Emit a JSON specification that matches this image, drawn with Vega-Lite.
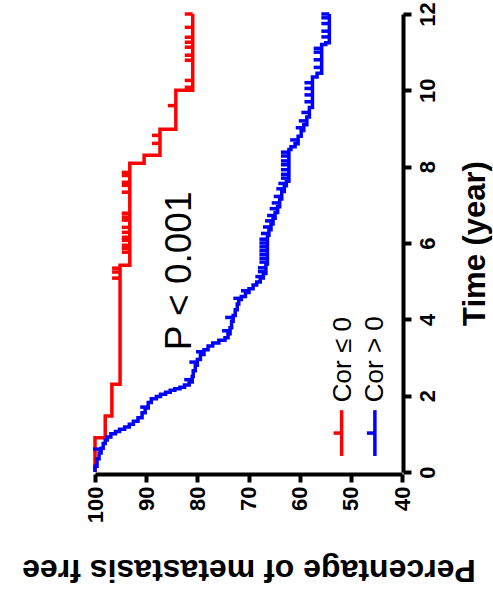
{
  "$schema": "https://vega.github.io/schema/vega-lite/v6.json",
  "autosize": {"type": "none"},
  "width": 307,
  "height": 458,
  "padding": {"left": 95, "top": 14, "right": 91, "bottom": 126},
  "background": "white",
  "config": {
    "view": {"stroke": null},
    "axis": {"grid": false, "labelFont": "Liberation Sans", "titleFont": "Liberation Sans"},
    "text": {"font": "Liberation Sans"}
  },
  "datasets": {
    "km": [
      {"group": "Cor ≤ 0", "time": 0, "pct": 100},
      {"group": "Cor ≤ 0", "time": 0.9, "pct": 98.0},
      {"group": "Cor ≤ 0", "time": 1.47, "pct": 96.7},
      {"group": "Cor ≤ 0", "time": 2.3, "pct": 95.1},
      {"group": "Cor ≤ 0", "time": 5.42, "pct": 93.2},
      {"group": "Cor ≤ 0", "time": 8.09, "pct": 90.4},
      {"group": "Cor ≤ 0", "time": 8.3, "pct": 87.3},
      {"group": "Cor ≤ 0", "time": 8.98, "pct": 84.2},
      {"group": "Cor ≤ 0", "time": 10.0, "pct": 80.9},
      {"group": "Cor ≤ 0", "time": 12.0, "pct": 80.9},
      {"group": "Cor > 0", "time": 0, "pct": 100},
      {"group": "Cor > 0", "time": 0.15, "pct": 99.6},
      {"group": "Cor > 0", "time": 0.35, "pct": 99.2},
      {"group": "Cor > 0", "time": 0.5, "pct": 98.8},
      {"group": "Cor > 0", "time": 0.62, "pct": 98.4},
      {"group": "Cor > 0", "time": 0.75, "pct": 98.0},
      {"group": "Cor > 0", "time": 0.84, "pct": 97.6},
      {"group": "Cor > 0", "time": 0.92, "pct": 96.9},
      {"group": "Cor > 0", "time": 1.0, "pct": 96.0},
      {"group": "Cor > 0", "time": 1.06, "pct": 95.2},
      {"group": "Cor > 0", "time": 1.12, "pct": 94.2},
      {"group": "Cor > 0", "time": 1.18, "pct": 93.3},
      {"group": "Cor > 0", "time": 1.25, "pct": 92.5},
      {"group": "Cor > 0", "time": 1.33, "pct": 91.6},
      {"group": "Cor > 0", "time": 1.42, "pct": 90.8},
      {"group": "Cor > 0", "time": 1.55, "pct": 90.2},
      {"group": "Cor > 0", "time": 1.68, "pct": 89.6},
      {"group": "Cor > 0", "time": 1.82, "pct": 89.0},
      {"group": "Cor > 0", "time": 1.92, "pct": 88.0},
      {"group": "Cor > 0", "time": 1.98, "pct": 87.2},
      {"group": "Cor > 0", "time": 2.04, "pct": 86.2},
      {"group": "Cor > 0", "time": 2.09, "pct": 85.3},
      {"group": "Cor > 0", "time": 2.14, "pct": 84.4},
      {"group": "Cor > 0", "time": 2.18, "pct": 83.4},
      {"group": "Cor > 0", "time": 2.22, "pct": 82.5},
      {"group": "Cor > 0", "time": 2.28, "pct": 81.6},
      {"group": "Cor > 0", "time": 2.36, "pct": 81.0},
      {"group": "Cor > 0", "time": 2.5, "pct": 80.8},
      {"group": "Cor > 0", "time": 2.65, "pct": 80.4},
      {"group": "Cor > 0", "time": 2.8, "pct": 80.0},
      {"group": "Cor > 0", "time": 2.95, "pct": 79.4},
      {"group": "Cor > 0", "time": 3.08, "pct": 78.7},
      {"group": "Cor > 0", "time": 3.2, "pct": 77.9},
      {"group": "Cor > 0", "time": 3.3, "pct": 77.0},
      {"group": "Cor > 0", "time": 3.38, "pct": 75.8},
      {"group": "Cor > 0", "time": 3.45, "pct": 74.6},
      {"group": "Cor > 0", "time": 3.52, "pct": 74.0},
      {"group": "Cor > 0", "time": 3.62, "pct": 73.6},
      {"group": "Cor > 0", "time": 3.78, "pct": 73.3},
      {"group": "Cor > 0", "time": 3.95, "pct": 73.0},
      {"group": "Cor > 0", "time": 4.1, "pct": 72.6},
      {"group": "Cor > 0", "time": 4.25, "pct": 72.2},
      {"group": "Cor > 0", "time": 4.4, "pct": 71.9},
      {"group": "Cor > 0", "time": 4.52, "pct": 71.4},
      {"group": "Cor > 0", "time": 4.6, "pct": 70.6},
      {"group": "Cor > 0", "time": 4.7, "pct": 69.9},
      {"group": "Cor > 0", "time": 4.8, "pct": 69.1},
      {"group": "Cor > 0", "time": 4.9, "pct": 68.4},
      {"group": "Cor > 0", "time": 4.98, "pct": 67.7},
      {"group": "Cor > 0", "time": 5.08, "pct": 67.1},
      {"group": "Cor > 0", "time": 5.2, "pct": 66.6},
      {"group": "Cor > 0", "time": 5.45, "pct": 66.3},
      {"group": "Cor > 0", "time": 6.2, "pct": 66.0},
      {"group": "Cor > 0", "time": 6.35, "pct": 65.6},
      {"group": "Cor > 0", "time": 6.5, "pct": 65.2},
      {"group": "Cor > 0", "time": 6.65, "pct": 64.8},
      {"group": "Cor > 0", "time": 6.8, "pct": 64.3},
      {"group": "Cor > 0", "time": 6.95, "pct": 63.9},
      {"group": "Cor > 0", "time": 7.15, "pct": 63.5},
      {"group": "Cor > 0", "time": 7.35, "pct": 63.0},
      {"group": "Cor > 0", "time": 7.5, "pct": 62.6},
      {"group": "Cor > 0", "time": 7.62, "pct": 62.1},
      {"group": "Cor > 0", "time": 8.45, "pct": 61.7},
      {"group": "Cor > 0", "time": 8.52, "pct": 60.9},
      {"group": "Cor > 0", "time": 8.6, "pct": 60.3},
      {"group": "Cor > 0", "time": 8.8, "pct": 59.7},
      {"group": "Cor > 0", "time": 8.95, "pct": 59.2},
      {"group": "Cor > 0", "time": 9.1, "pct": 58.6},
      {"group": "Cor > 0", "time": 9.3, "pct": 58.1},
      {"group": "Cor > 0", "time": 9.55, "pct": 57.5},
      {"group": "Cor > 0", "time": 10.35, "pct": 56.6},
      {"group": "Cor > 0", "time": 10.45, "pct": 55.7},
      {"group": "Cor > 0", "time": 11.2, "pct": 54.9},
      {"group": "Cor > 0", "time": 11.25, "pct": 54.2},
      {"group": "Cor > 0", "time": 12.0, "pct": 54.2}
    ],
    "censor": [
      {"group": "Cor ≤ 0", "time": 5.08, "pct": 95.1},
      {"group": "Cor ≤ 0", "time": 5.24, "pct": 95.1},
      {"group": "Cor ≤ 0", "time": 5.34, "pct": 95.1},
      {"group": "Cor ≤ 0", "time": 5.76, "pct": 93.2},
      {"group": "Cor ≤ 0", "time": 5.86, "pct": 93.2},
      {"group": "Cor ≤ 0", "time": 5.94, "pct": 93.2},
      {"group": "Cor ≤ 0", "time": 6.07, "pct": 93.2},
      {"group": "Cor ≤ 0", "time": 6.15, "pct": 93.2},
      {"group": "Cor ≤ 0", "time": 6.28, "pct": 93.2},
      {"group": "Cor ≤ 0", "time": 6.41, "pct": 93.2},
      {"group": "Cor ≤ 0", "time": 6.6, "pct": 93.2},
      {"group": "Cor ≤ 0", "time": 6.68, "pct": 93.2},
      {"group": "Cor ≤ 0", "time": 6.78, "pct": 93.2},
      {"group": "Cor ≤ 0", "time": 7.33, "pct": 93.2},
      {"group": "Cor ≤ 0", "time": 7.51, "pct": 93.2},
      {"group": "Cor ≤ 0", "time": 7.59, "pct": 93.2},
      {"group": "Cor ≤ 0", "time": 7.77, "pct": 93.2},
      {"group": "Cor ≤ 0", "time": 7.85, "pct": 93.2},
      {"group": "Cor ≤ 0", "time": 8.61, "pct": 87.3},
      {"group": "Cor ≤ 0", "time": 8.82, "pct": 87.3},
      {"group": "Cor ≤ 0", "time": 9.6, "pct": 84.2},
      {"group": "Cor ≤ 0", "time": 10.08, "pct": 80.9},
      {"group": "Cor ≤ 0", "time": 10.26, "pct": 80.9},
      {"group": "Cor ≤ 0", "time": 10.79, "pct": 80.9},
      {"group": "Cor ≤ 0", "time": 10.92, "pct": 80.9},
      {"group": "Cor ≤ 0", "time": 11.13, "pct": 80.9},
      {"group": "Cor ≤ 0", "time": 11.26, "pct": 80.9},
      {"group": "Cor ≤ 0", "time": 11.39, "pct": 80.9},
      {"group": "Cor ≤ 0", "time": 11.65, "pct": 80.9},
      {"group": "Cor ≤ 0", "time": 12.0, "pct": 80.9},
      {"group": "Cor > 0", "time": 0.6, "pct": 98.8},
      {"group": "Cor > 0", "time": 1.7, "pct": 89.6},
      {"group": "Cor > 0", "time": 2.42, "pct": 81.0},
      {"group": "Cor > 0", "time": 2.88, "pct": 80.0},
      {"group": "Cor > 0", "time": 3.15, "pct": 78.7},
      {"group": "Cor > 0", "time": 3.7, "pct": 73.6},
      {"group": "Cor > 0", "time": 4.05, "pct": 73.0},
      {"group": "Cor > 0", "time": 4.55, "pct": 71.4},
      {"group": "Cor > 0", "time": 4.75, "pct": 69.9},
      {"group": "Cor > 0", "time": 5.12, "pct": 67.1},
      {"group": "Cor > 0", "time": 5.25, "pct": 66.6},
      {"group": "Cor > 0", "time": 5.35, "pct": 66.6},
      {"group": "Cor > 0", "time": 5.5, "pct": 66.3},
      {"group": "Cor > 0", "time": 5.6, "pct": 66.3},
      {"group": "Cor > 0", "time": 5.7, "pct": 66.3},
      {"group": "Cor > 0", "time": 5.8, "pct": 66.3},
      {"group": "Cor > 0", "time": 5.9, "pct": 66.3},
      {"group": "Cor > 0", "time": 6.0, "pct": 66.3},
      {"group": "Cor > 0", "time": 6.1, "pct": 66.3},
      {"group": "Cor > 0", "time": 6.25, "pct": 66.0},
      {"group": "Cor > 0", "time": 6.42, "pct": 65.6},
      {"group": "Cor > 0", "time": 6.58, "pct": 65.2},
      {"group": "Cor > 0", "time": 6.72, "pct": 64.8},
      {"group": "Cor > 0", "time": 6.9, "pct": 64.3},
      {"group": "Cor > 0", "time": 7.05, "pct": 63.9},
      {"group": "Cor > 0", "time": 7.22, "pct": 63.5},
      {"group": "Cor > 0", "time": 7.42, "pct": 63.0},
      {"group": "Cor > 0", "time": 7.56, "pct": 62.6},
      {"group": "Cor > 0", "time": 7.7, "pct": 62.1},
      {"group": "Cor > 0", "time": 7.8, "pct": 62.1},
      {"group": "Cor > 0", "time": 7.92, "pct": 62.1},
      {"group": "Cor > 0", "time": 8.05, "pct": 62.1},
      {"group": "Cor > 0", "time": 8.15, "pct": 62.1},
      {"group": "Cor > 0", "time": 8.28, "pct": 62.1},
      {"group": "Cor > 0", "time": 8.38, "pct": 62.1},
      {"group": "Cor > 0", "time": 8.7, "pct": 60.3},
      {"group": "Cor > 0", "time": 9.02, "pct": 59.2},
      {"group": "Cor > 0", "time": 9.2, "pct": 58.6},
      {"group": "Cor > 0", "time": 9.42, "pct": 58.1},
      {"group": "Cor > 0", "time": 9.7, "pct": 57.5},
      {"group": "Cor > 0", "time": 9.88, "pct": 57.5},
      {"group": "Cor > 0", "time": 10.05, "pct": 57.5},
      {"group": "Cor > 0", "time": 10.2, "pct": 57.5},
      {"group": "Cor > 0", "time": 10.6, "pct": 55.7},
      {"group": "Cor > 0", "time": 10.8, "pct": 55.7},
      {"group": "Cor > 0", "time": 11.0, "pct": 55.7},
      {"group": "Cor > 0", "time": 11.1, "pct": 55.7},
      {"group": "Cor > 0", "time": 11.4, "pct": 54.2},
      {"group": "Cor > 0", "time": 11.55, "pct": 54.2},
      {"group": "Cor > 0", "time": 11.75, "pct": 54.2},
      {"group": "Cor > 0", "time": 11.9, "pct": 54.2},
      {"group": "Cor > 0", "time": 12.0, "pct": 54.2}
    ],
    "legend": [
      {"group": "Cor ≤ 0"},
      {"group": "Cor > 0"}
    ]
  },
  "layer": [
    {
      "encoding": {
        "x": {
          "field": "pct", "type": "quantitative",
          "scale": {"domain": [40, 100], "reverse": true, "nice": false, "zero": false},
          "axis": {
            "orient": "bottom", "offset": 2,
            "values": [40, 50, 60, 70, 80, 90, 100],
            "labelAngle": 270, "labelAlign": "right", "labelBaseline": "middle",
            "labelFontSize": 22, "labelFontWeight": "bold", "labelColor": "black", "labelPadding": 4,
            "tickSize": 8, "tickWidth": 4, "tickColor": "black",
            "domainWidth": 4, "domainColor": "black",
            "title": "Percentage of metastasis free",
            "titleAngle": 180, "titleFontSize": 32, "titleFontWeight": "bold", "titleColor": "black",
            "titleBaseline": "bottom", "titleY": 78
          }
        },
        "y": {
          "field": "time", "type": "quantitative",
          "scale": {"domain": [0, 12], "nice": false},
          "axis": {
            "orient": "right", "offset": 1,
            "values": [0, 2, 4, 6, 8, 10, 12],
            "labelAngle": 270, "labelAlign": "center", "labelBaseline": "top",
            "labelFontSize": 22, "labelFontWeight": "bold", "labelColor": "black", "labelPadding": 6,
            "tickSize": 8, "tickWidth": 4, "tickColor": "black",
            "domainWidth": 4, "domainColor": "black",
            "title": "Time (year)",
            "titleAngle": 270, "titleFontSize": 31, "titleFontWeight": "bold", "titleColor": "black",
            "titleBaseline": "top", "titleX": 57
          }
        },
        "color": {
          "field": "group", "type": "nominal",
          "scale": {"domain": ["Cor ≤ 0", "Cor > 0"], "range": ["#ff0000", "#0000ff"]},
          "legend": null
        }
      },
      "layer": [
        {
          "data": {"name": "km"},
          "mark": {"type": "line", "interpolate": "step-before", "strokeWidth": 3.5},
          "encoding": {"order": {"field": "time", "type": "quantitative"}}
        },
        {
          "data": {"name": "censor"},
          "mark": {"type": "point", "shape": "M-1,-0.22H0V0.22H-1Z", "filled": true, "size": 256, "opacity": 1, "strokeWidth": 0}
        }
      ]
    },
    {
      "data": {"values": [{"label": "P < 0.001"}]},
      "mark": {"type": "text", "angle": 270, "align": "left", "baseline": "middle", "fontSize": 37, "color": "black"},
      "encoding": {
        "x": {"datum": 83.4, "type": "quantitative"},
        "y": {"datum": 3.19, "type": "quantitative"},
        "text": {"field": "label"}
      }
    },
    {
      "data": {"name": "legend"},
      "transform": [{"filter": "datum.group === 'Cor ≤ 0'"}],
      "layer": [
        {
          "mark": {"type": "rule", "strokeWidth": 3.5, "color": "#ff0000"},
          "encoding": {
            "x": {"datum": 51.8, "type": "quantitative"},
            "y": {"datum": 0.42, "type": "quantitative"},
            "y2": {"datum": 1.62}
          }
        },
        {
          "mark": {"type": "point", "shape": "M-1,-0.22H0V0.22H-1Z", "filled": true, "size": 256, "opacity": 1, "strokeWidth": 0, "color": "#ff0000"},
          "encoding": {
            "x": {"datum": 51.8, "type": "quantitative"},
            "y": {"datum": 1.02, "type": "quantitative"}
          }
        },
        {
          "mark": {"type": "text", "angle": 270, "align": "left", "baseline": "middle", "fontSize": 26, "color": "black"},
          "encoding": {
            "x": {"datum": 51.6, "type": "quantitative"},
            "y": {"datum": 1.83, "type": "quantitative"},
            "text": {"field": "group"}
          }
        }
      ]
    },
    {
      "data": {"name": "legend"},
      "transform": [{"filter": "datum.group === 'Cor > 0'"}],
      "layer": [
        {
          "mark": {"type": "rule", "strokeWidth": 3.5, "color": "#0000ff"},
          "encoding": {
            "x": {"datum": 45.3, "type": "quantitative"},
            "y": {"datum": 0.42, "type": "quantitative"},
            "y2": {"datum": 1.62}
          }
        },
        {
          "mark": {"type": "point", "shape": "M-1,-0.22H0V0.22H-1Z", "filled": true, "size": 256, "opacity": 1, "strokeWidth": 0, "color": "#0000ff"},
          "encoding": {
            "x": {"datum": 45.3, "type": "quantitative"},
            "y": {"datum": 1.02, "type": "quantitative"}
          }
        },
        {
          "mark": {"type": "text", "angle": 270, "align": "left", "baseline": "middle", "fontSize": 26, "color": "black"},
          "encoding": {
            "x": {"datum": 45.3, "type": "quantitative"},
            "y": {"datum": 1.83, "type": "quantitative"},
            "text": {"field": "group"}
          }
        }
      ]
    }
  ]
}
